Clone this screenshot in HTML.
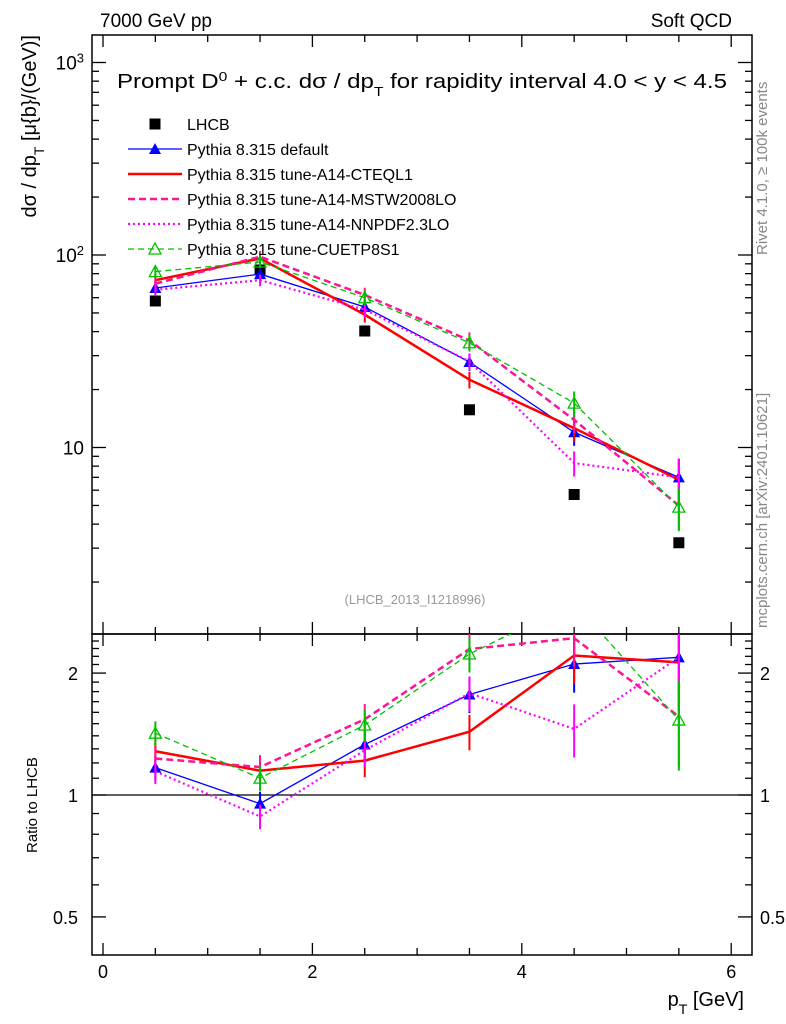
<!DOCTYPE html>
<html><head><meta charset="utf-8"><style>
body{margin:0;background:#fff}
svg{display:block;font-family:"Liberation Sans",sans-serif}
</style></head><body>
<svg id="c" width="786" height="1024" xmlns="http://www.w3.org/2000/svg">
<g id="g"></g>
</svg>
<script>
const xCenters=[0.5,1.5,2.5,3.5,4.5,5.5];
const lhcb=[57.7,83.6,40.3,15.7,5.7,3.2];
const sDefault=[67.4,79.6,53.7,27.8,12.0,7.0];
const sCteq=[74,96,49,22.5,12.6,6.8];
const sMstw=[71,98,62,36,13.9,5.0];
const sNnpdf=[66,74,52,28,8.3,7.0];
const sCuetp=[82,92,60,35,17,4.9];
const relErr=[0.07,0.07,0.09,0.1,0.15,0.25];
const xTicks=[0,2,4,6];
const ratioTicks=[0.5,1,2];

const NS="http://www.w3.org/2000/svg";
const g=document.getElementById('g');
const L=92,R=752,T=35,MB=634,RB=955;
const X=v=>103+v*104.7;
const Y=v=>255-(Math.log10(v)-2)*192.5;
const YR=v=>795-Math.log10(v)*405;
function el(t,a,p){const e=document.createElementNS(NS,t);for(const k in a)e.setAttribute(k,a[k]);(p||g).appendChild(e);return e;}
function txt(x,y,s,size,anchor,fill){const e=el('text',{x:x,y:y,'font-size':size,'text-anchor':anchor||'start',fill:fill||'#000'});e.innerHTML=s;return e;}

const defs=el('defs',{});
const c1=el('clipPath',{id:'cm'},defs);el('rect',{x:L,y:T,width:R-L,height:MB-T},c1);
const c2=el('clipPath',{id:'cr'},defs);el('rect',{x:L,y:MB,width:R-L,height:RB-MB},c2);

let t;
t=txt(100,27,'7000 GeV pp',19);
t=txt(732,27,'Soft QCD',19,'end');
t=txt(117,88,'Prompt D<tspan baseline-shift="super" font-size="13">0</tspan> + c.c.  dσ / dp<tspan baseline-shift="sub" font-size="13">T</tspan> for rapidity interval 4.0 &lt; y &lt; 4.5',20);
t.setAttribute('textLength','610');t.setAttribute('lengthAdjust','spacingAndGlyphs');t.setAttribute('xml:space','preserve');

t=txt(0,0,'Rivet 4.1.0, ≥ 100k events',15,'start','#888');t.setAttribute('transform','translate(767,255) rotate(-90)');

t=txt(0,0,'mcplots.cern.ch [arXiv:2401.10621]',15,'start','#888');t.setAttribute('transform','translate(767,628) rotate(-90)');

t=txt(415,604,'(LHCB_2013_I1218996)',13,'middle','#999');
t=txt(0,0,'dσ / dp<tspan baseline-shift="sub" font-size="14">T</tspan> [μ{b}/(GeV)]',20,'end');t.setAttribute('transform','translate(36,35) rotate(-90)');

t=txt(0,0,'Ratio to LHCB',15,'start');t.setAttribute('transform','translate(37,853) rotate(-90)');

t=txt(744,1006,'p<tspan baseline-shift="sub" font-size="14">T</tspan> [GeV]',20,'end');

let f=el('rect',{x:L,y:T,width:R-L,height:MB-T,fill:'none',stroke:'#000','stroke-width':1.5});
f=el('rect',{x:L,y:MB,width:R-L,height:RB-MB,fill:'none',stroke:'#000','stroke-width':1.5});

for(let v=0;v<=6.01;v+=0.5){const x=X(v);const big=Math.abs(v-Math.round(v/2)*2)<1e-6;const len=big?12:7;
 [[T,T+len],[MB,MB+len],[MB,MB-len],[RB,RB-len]].forEach(p=>el('line',{x1:x,x2:x,y1:p[0],y2:p[1],stroke:'#000','stroke-width':1.3}));}
xTicks.forEach(v=>{const e=txt(X(v),978,String(v),18,'middle');});

for(let d=0;d<3;d++){for(let m=1;m<10;m++){const v=m*Math.pow(10,d);const y=Y(v);if(y<T||y>MB)continue;const len=m==1?14:7;
 el('line',{x1:L,x2:L+len,y1:y,y2:y,stroke:'#000','stroke-width':1.3});el('line',{x1:R,x2:R-len,y1:y,y2:y,stroke:'#000','stroke-width':1.3});}}
el('line',{x1:L,x2:L+14,y1:Y(1000),y2:Y(1000),stroke:'#000','stroke-width':1.3});el('line',{x1:R,x2:R-14,y1:Y(1000),y2:Y(1000),stroke:'#000','stroke-width':1.3});
[['10',Y(10)],['10<tspan baseline-shift="super" font-size="13">2</tspan>',Y(100)],['10<tspan baseline-shift="super" font-size="13">3</tspan>',Y(1000)]].forEach(a=>{const e=txt(84,a[1]+7,a[0],19,'end');});

[0.4,0.5,0.6,0.7,0.8,0.9,1,1.1,1.2,1.3,1.4,1.5,1.6,1.7,1.8,1.9,2,2.1,2.2,2.3,2.4,2.5].forEach(v=>{const y=YR(v);if(y<MB||y>RB)return;const len=(v==0.5||v==1||v==2)?14:7;
 el('line',{x1:L,x2:L+len,y1:y,y2:y,stroke:'#000','stroke-width':1.3});el('line',{x1:R,x2:R-len,y1:y,y2:y,stroke:'#000','stroke-width':1.3});});
ratioTicks.forEach(v=>{let e=txt(78,YR(v)+7,String(v),18,'end');
 e=txt(760,YR(v)+7,String(v),18,'start');});
el('line',{x1:L,x2:R,y1:YR(1),y2:YR(1),stroke:'#000','stroke-width':1.3});

const series=[
 {name:'Pythia 8.315 default',d:sDefault,c:'#0000ff',w:1.3,dash:'',m:'tri',key:'default'},
 {name:'Pythia 8.315 tune-A14-CTEQL1',d:sCteq,c:'#ff0000',w:2.5,dash:'',m:'none',key:'cteql1'},
 {name:'Pythia 8.315 tune-A14-MSTW2008LO',d:sMstw,c:'#ff1493',w:2.5,dash:'7,4',m:'none',key:'mstw2008lo'},
 {name:'Pythia 8.315 tune-A14-NNPDF2.3LO',d:sNnpdf,c:'#ff00ff',w:2.2,dash:'2,3',m:'none',key:'nnpdf23lo'},
 {name:'Pythia 8.315 tune-CUETP8S1',d:sCuetp,c:'#00c000',w:1.3,dash:'6,4',m:'otri',key:'cuetp8s1'}
];
function marker(type,x,y,c,parent){
 if(type=='tri')return el('polygon',{points:`${x},${y-6} ${x-6},${y+5} ${x+6},${y+5}`,fill:c},parent);
 if(type=='otri')return el('polygon',{points:`${x},${y-6} ${x-6},${y+5} ${x+6},${y+5}`,fill:'none',stroke:c,'stroke-width':1.3},parent);
 if(type=='sq')return el('rect',{x:x-5.5,y:y-5.5,width:11,height:11,fill:'#000'},parent);
}
const gm=el('g',{'clip-path':'url(#cm)'});
const gr=el('g',{'clip-path':'url(#cr)'});

lhcb.forEach((v,i)=>{const m=marker('sq',X(xCenters[i]),Y(v),'#000',gm);});

series.forEach(s=>{
 const pts=s.d.map((v,i)=>X(xCenters[i])+','+Y(v)).join(' ');
 let p=el('polyline',{points:pts,fill:'none',stroke:s.c,'stroke-width':s.w,'stroke-dasharray':s.dash},gm);
 
 const rpts=s.d.map((v,i)=>X(xCenters[i])+','+YR(v/lhcb[i])).join(' ');
 p=el('polyline',{points:rpts,fill:'none',stroke:s.c,'stroke-width':s.w,'stroke-dasharray':s.dash},gr);
 
 s.d.forEach((v,i)=>{const x=X(xCenters[i]);const e=relErr[i];
  let b=el('line',{x1:x,x2:x,y1:Y(v*(1+e)),y2:Y(v*(1-e)),stroke:s.c,'stroke-width':2},gm);
  const r=v/lhcb[i];
  b=el('line',{x1:x,x2:x,y1:YR(r*(1+e)),y2:YR(r*(1-e)),stroke:s.c,'stroke-width':2},gr);
  if(s.m!='none'){let m=marker(s.m,x,Y(v),s.c,gm);
   m=marker(s.m,x,YR(r),s.c,gr);}
 });
});

const lg=el('g',{});
let ly=124;
let le=el('g',{},lg);
marker('sq',155,ly,'#000',le);let lt=el('text',{x:187,y:ly+6,'font-size':16},le);lt.textContent='LHCB';
series.forEach((s,i)=>{const y=ly+25*(i+1);const e=el('g',{},lg);
 el('line',{x1:128,x2:182,y1:y,y2:y,stroke:s.c,'stroke-width':s.w,'stroke-dasharray':s.dash},e);
 if(s.m!='none')marker(s.m,155,y,s.c,e);
 const tt=el('text',{x:187,y:y+6,'font-size':16},e);tt.textContent=s.name;});
</script>
</body></html>
